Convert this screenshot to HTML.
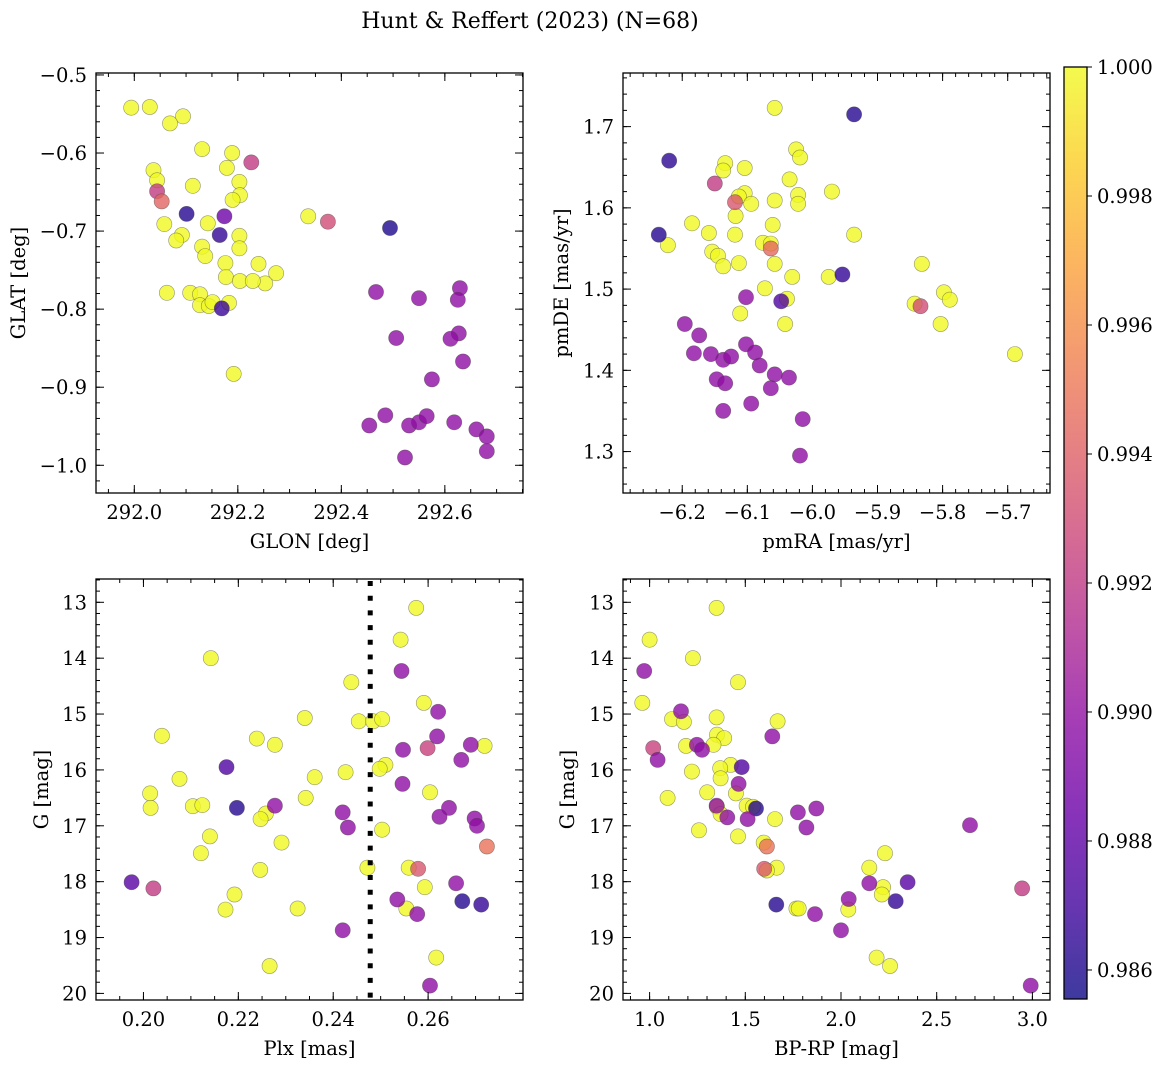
<!DOCTYPE html>
<html><head><meta charset="utf-8">
<style>
html,body{margin:0;padding:0;background:#fff;}
svg{display:block;font-family:"DejaVu Serif","Liberation Serif",serif;}
</style></head>
<body>
<svg id="fig" width="1161" height="1067" viewBox="0 0 1161 1067" xmlns="http://www.w3.org/2000/svg">
<text x="530" y="28" font-size="22" text-anchor="middle">Hunt &amp; Reffert (2023) (N=68)</text>
</svg>
<script>
// ---------- Panel 1: GLON / GLAT ----------
const glon = [291.994,292.030,292.094,292.069,292.131,292.189,292.179,292.037,292.044,292.113,292.203,292.204,292.190,292.058,292.142,292.092,292.081,292.203,292.131,292.203,292.137,292.176,292.240,292.274,292.177,292.108,292.127,292.204,292.253,292.229,292.063,292.127,292.144,292.183,292.151,292.192,292.336,
292.101,292.165,292.494,292.169,292.174,
292.226,292.044,292.053,292.374,
292.467,292.550,292.629,292.625,292.506,292.627,292.611,292.635,292.575,292.454,292.485,292.531,292.550,292.565,292.618,292.661,292.681,292.681,292.523];
const glat = [-0.542,-0.541,-0.553,-0.562,-0.595,-0.600,-0.619,-0.622,-0.635,-0.642,-0.637,-0.654,-0.660,-0.691,-0.690,-0.705,-0.712,-0.706,-0.720,-0.722,-0.732,-0.741,-0.742,-0.754,-0.759,-0.779,-0.781,-0.764,-0.767,-0.764,-0.779,-0.795,-0.796,-0.792,-0.791,-0.883,-0.681,
-0.678,-0.705,-0.696,-0.799,-0.681,
-0.612,-0.649,-0.662,-0.688,
-0.778,-0.786,-0.773,-0.788,-0.837,-0.831,-0.838,-0.867,-0.890,-0.949,-0.936,-0.949,-0.945,-0.937,-0.945,-0.954,-0.963,-0.982,-0.990];
const prob1 = [1.000,1.000,1.000,1.000,1.000,1.000,1.000,1.000,1.000,1.000,1.000,1.000,1.000,1.000,1.000,1.000,1.000,1.000,1.000,1.000,1.000,1.000,1.000,1.000,1.000,1.000,1.000,1.000,1.000,1.000,1.000,1.000,1.000,1.000,1.000,1.000,1.000,
0.9862,0.9866,0.9860,0.9868,0.9885,
0.9921,0.9922,0.9942,0.9930,
0.9899,0.9899,0.9899,0.9899,0.9899,0.9899,0.9899,0.9899,0.9899,0.9899,0.9899,0.9899,0.9899,0.9899,0.9899,0.9899,0.9899,0.9899,0.9899];
const p1XTicks = [292.0,292.2,292.4,292.6];
const p1XLabels = ["292.0","292.2","292.4","292.6"];
const p1YTicks = [-0.5,-0.6,-0.7,-0.8,-0.9,-1.0];
const p1YLabels = ["\u22120.5","\u22120.6","\u22120.7","\u22120.8","\u22120.9","\u22121.0"];

// ---------- Panel 2: pmRA / pmDE ----------
const pmra = [-6.058,-6.025,-6.019,-6.134,-6.137,-6.104,-6.035,-5.970,-6.104,-6.113,-6.094,-6.058,-6.022,-6.022,-6.118,-6.061,-6.185,-6.159,-6.119,-5.936,-6.222,-6.076,-6.064,-6.154,-6.145,-6.113,-6.058,-6.137,-6.031,-5.975,-5.832,-6.073,-6.039,-6.111,-6.042,-5.843,-5.798,-5.789,-5.803,-5.689,
-5.936,-6.220,-6.236,-5.954,-6.048,
-6.150,-6.119,-6.064,-5.834,
-6.102,-6.196,-6.174,-6.182,-6.156,-6.137,-6.125,-6.102,-6.088,-6.081,-6.058,-6.036,-6.147,-6.134,-6.064,-6.094,-6.137,-6.015,-6.019];
const pmde = [1.723,1.672,1.662,1.655,1.646,1.649,1.635,1.620,1.618,1.614,1.605,1.609,1.616,1.605,1.590,1.579,1.581,1.569,1.567,1.567,1.554,1.557,1.556,1.546,1.541,1.532,1.531,1.528,1.515,1.515,1.531,1.501,1.488,1.470,1.457,1.482,1.496,1.487,1.457,1.420,
1.715,1.658,1.567,1.518,1.485,
1.630,1.607,1.550,1.479,
1.490,1.457,1.443,1.421,1.420,1.413,1.417,1.432,1.422,1.406,1.395,1.391,1.389,1.384,1.378,1.359,1.350,1.340,1.295];
const prob2 = [1.000,1.000,1.000,1.000,1.000,1.000,1.000,1.000,1.000,1.000,1.000,1.000,1.000,1.000,1.000,1.000,1.000,1.000,1.000,1.000,1.000,1.000,1.000,1.000,1.000,1.000,1.000,1.000,1.000,1.000,1.000,1.000,1.000,1.000,1.000,1.000,1.000,1.000,1.000,1.000,
0.9862,0.9864,0.9862,0.9866,0.9875,
0.9921,0.9935,0.9944,0.9930,
0.9899,0.9899,0.9899,0.9899,0.9899,0.9899,0.9899,0.9899,0.9899,0.9899,0.9899,0.9899,0.9899,0.9899,0.9899,0.9899,0.9899,0.9899,0.9899];
const p2XTicks = [-6.2,-6.1,-6.0,-5.9,-5.8,-5.7];
const p2XLabels = ["\u22126.2","\u22126.1","\u22126.0","\u22125.9","\u22125.8","\u22125.7"];
const p2YTicks = [1.3,1.4,1.5,1.6,1.7];
const p2YLabels = ["1.3","1.4","1.5","1.6","1.7"];

// ---------- Panel 3: Plx / G ----------
const plx = [0.2575,0.2542,0.2142,0.2438,0.2591,0.2340,0.2454,0.2484,0.2503,0.2039,0.2239,0.2277,0.2719,0.2510,0.2498,0.2426,0.2076,0.2361,0.2604,0.2014,0.2342,0.2015,0.2104,0.2124,0.2258,0.2247,0.2503,0.2140,0.2291,0.2121,0.2472,0.2559,0.2246,0.2593,0.2192,0.2173,0.2325,0.2554,0.2617,0.2266,
0.2175,0.2197,0.2672,0.2712,0.1975,
0.2599,0.2021,0.2579,0.2724,
0.2544,0.2621,0.2619,0.2547,0.2690,0.2670,0.2546,0.2277,0.2420,0.2431,0.2644,0.2624,0.2698,0.2703,0.2659,0.2535,0.2577,0.2420,0.2604];
const gmag3 = [13.10,13.67,14.00,14.43,14.80,15.07,15.13,15.13,15.09,15.39,15.44,15.55,15.57,15.91,15.98,16.04,16.16,16.13,16.40,16.42,16.50,16.68,16.65,16.63,16.78,16.88,17.07,17.19,17.30,17.49,17.75,17.75,17.79,18.10,18.23,18.50,18.48,18.48,19.36,19.51,
15.95,16.68,18.35,18.41,18.01,
15.61,18.12,17.77,17.37,
14.23,14.96,15.40,15.64,15.55,15.82,16.25,16.64,16.76,17.03,16.68,16.84,16.87,17.00,18.03,18.32,18.58,18.87,19.86];
const prob3 = [1.000,1.000,1.000,1.000,1.000,1.000,1.000,1.000,1.000,1.000,1.000,1.000,1.000,1.000,1.000,1.000,1.000,1.000,1.000,1.000,1.000,1.000,1.000,1.000,1.000,1.000,1.000,1.000,1.000,1.000,1.000,1.000,1.000,1.000,1.000,1.000,1.000,1.000,1.000,1.000,
0.9875,0.9862,0.9862,0.9866,0.9878,
0.9925,0.9921,0.9935,0.9948,
0.9899,0.9899,0.9899,0.9899,0.9899,0.9899,0.9899,0.9899,0.9899,0.9899,0.9899,0.9899,0.9899,0.9899,0.9899,0.9899,0.9899,0.9899,0.9899];
const plxCut = 0.2478;
const p3XTicks = [0.20,0.22,0.24,0.26];
const p3XLabels = ["0.20","0.22","0.24","0.26"];
const gTicks = [13,14,15,16,17,18,19,20];
const gLabels = ["13","14","15","16","17","18","19","20"];

// ---------- Panel 4: BP-RP / G ----------
const bprp = [1.350,1.000,1.226,1.462,0.962,1.117,1.179,1.350,1.669,1.352,1.390,1.334,1.190,1.423,1.369,1.371,1.221,1.094,1.301,1.451,1.507,1.540,1.352,1.371,1.655,1.258,1.462,1.596,1.664,1.613,2.230,2.148,2.220,2.213,1.767,1.779,2.038,2.186,2.256,
1.481,1.556,1.662,2.286,2.348,
1.019,2.946,1.613,1.599,
0.972,1.164,1.247,1.274,1.042,1.641,1.465,1.350,1.406,1.512,1.775,1.871,1.819,2.674,2.148,2.040,1.864,2.000,2.991];
const gmag4 = [13.10,13.67,14.00,14.43,14.80,15.09,15.14,15.06,15.13,15.37,15.43,15.55,15.57,15.91,15.97,16.15,16.03,16.50,16.40,16.42,16.64,16.66,16.66,16.79,16.88,17.08,17.19,17.30,17.75,17.80,17.49,17.75,18.10,18.23,18.48,18.48,18.50,19.36,19.51,
15.95,16.69,18.41,18.35,18.01,
15.61,18.12,17.37,17.77,
14.23,14.95,15.55,15.64,15.82,15.40,16.25,16.64,16.85,16.88,16.76,16.69,17.03,16.99,18.03,18.31,18.58,18.87,19.86];
const prob4 = [1.000,1.000,1.000,1.000,1.000,1.000,1.000,1.000,1.000,1.000,1.000,1.000,1.000,1.000,1.000,1.000,1.000,1.000,1.000,1.000,1.000,1.000,1.000,1.000,1.000,1.000,1.000,1.000,1.000,1.000,1.000,1.000,1.000,1.000,1.000,1.000,1.000,1.000,1.000,
0.9875,0.9862,0.9862,0.9866,0.9878,
0.9925,0.9921,0.9948,0.9935,
0.9899,0.9899,0.9899,0.9899,0.9899,0.9899,0.9899,0.9899,0.9899,0.9899,0.9899,0.9899,0.9899,0.9899,0.9899,0.9899,0.9899,0.9899,0.9899];
const p4XTicks = [1.0,1.5,2.0,2.5,3.0];
const p4XLabels = ["1.0","1.5","2.0","2.5","3.0"];

// ---------- Colorbar ----------
const cbTicks = [0.986,0.988,0.990,0.992,0.994,0.996,0.998,1.000];
const cbLabels = ["0.986","0.988","0.990","0.992","0.994","0.996","0.998","1.000"];
const vmin = 0.98555, vmax = 1.0;

const NS = "http://www.w3.org/2000/svg";
const FS = 19.5;
const fig = document.getElementById('fig');
const plasmaStops = ["#0d0887","#41049d","#6a00a8","#8f0da4","#b12a90","#cc4778","#e16462","#f2844b","#fca636","#fcce25","#f0f921"];
function hex(h){return [parseInt(h.substr(1,2),16),parseInt(h.substr(3,2),16),parseInt(h.substr(5,2),16)];}
function plasma(t){
  t=Math.max(0,Math.min(1,t));
  const f=t*10, i=Math.min(9,Math.floor(f)), r=f-i;
  const a=hex(plasmaStops[i]), b=hex(plasmaStops[i+1]);
  return "rgb("+a.map((v,k)=>Math.round(v+(b[k]-v)*r)).join(",")+")";
}
function el(tag, attrs, parent){
  const e=document.createElementNS(NS,tag);
  for(const k in attrs) e.setAttribute(k,attrs[k]);
  (parent||fig).appendChild(e);
  return e;
}
function linear(d0,d1,r0,r1){return v=>r0+(v-d0)/(d1-d0)*(r1-r0);}

function panel(name, box, xdom, ydom, xt, xl, xminor, yt, yl, yminor, xlabel, ylabel, ylabelX, xs, ys, ps){
  const g=el('g',{});
  
  
  const sx=linear(xdom[0],xdom[1],box.x0,box.x1);
  const sy=linear(ydom[0],ydom[1],box.y1,box.y0);
  const pg=el('g',{},g);
  
  
  for(let i=0;i<xs.length;i++){
    const c=el('circle',{cx:sx(xs[i]).toFixed(1),cy:sy(ys[i]).toFixed(1),r:7.6,fill:plasma((ps[i]-vmin)/(vmax-vmin)),'fill-opacity':0.8,stroke:'rgba(70,70,60,0.55)','stroke-width':0.6},pg);
    
    
  }
  const tg=el('g',{stroke:'#000','stroke-width':1},g);
  const xlo=Math.min(xdom[0],xdom[1]), xhi=Math.max(xdom[0],xdom[1]);
  const ylo=Math.min(ydom[0],ydom[1]), yhi=Math.max(ydom[0],ydom[1]);
  for(let v=Math.ceil(xlo/xminor-1e-6)*xminor; v<=xhi+1e-9; v+=xminor){
    const X=sx(v);
    el('line',{x1:X,x2:X,y1:box.y1,y2:box.y1-4},tg);
    el('line',{x1:X,x2:X,y1:box.y0,y2:box.y0+4},tg);
  }
  for(let v=Math.ceil(ylo/yminor-1e-6)*yminor; v<=yhi+1e-9; v+=yminor){
    const Y=sy(v);
    el('line',{y1:Y,y2:Y,x1:box.x0,x2:box.x0+4},tg);
    el('line',{y1:Y,y2:Y,x1:box.x1,x2:box.x1-4},tg);
  }
  xt.forEach((v,i)=>{
    const X=sx(v);
    el('line',{x1:X,x2:X,y1:box.y1,y2:box.y1-8},tg);
    el('line',{x1:X,x2:X,y1:box.y0,y2:box.y0+8},tg);
    const t=el('text',{x:X,y:box.y1+26,'font-size':FS,'text-anchor':'middle'},g);
    t.textContent=xl[i];
    
    
  });
  yt.forEach((v,i)=>{
    const Y=sy(v);
    el('line',{y1:Y,y2:Y,x1:box.x0,x2:box.x0+8},tg);
    el('line',{y1:Y,y2:Y,x1:box.x1,x2:box.x1-8},tg);
    const t=el('text',{x:box.x0-9,y:Y+7,'font-size':FS,'text-anchor':'end'},g);
    t.textContent=yl[i];
    
    
  });
  const fr=el('rect',{x:box.x0,y:box.y0,width:box.x1-box.x0,height:box.y1-box.y0,fill:'none',stroke:'#000','stroke-width':1.3},g);
  
  
  const xa=el('text',{x:(box.x0+box.x1)/2,y:box.y1+55,'font-size':FS,'text-anchor':'middle'},g);
  xa.textContent=xlabel;
  
  
  const cy=(box.y0+box.y1)/2;
  const ya=el('text',{x:ylabelX,y:cy,'font-size':FS,'text-anchor':'middle',transform:'rotate(-90 '+ylabelX+' '+cy+')'},g);
  ya.textContent=ylabel;
  
  
  return {sx,sy,g};
}

panel('glon-glat-panel',{x0:96,x1:523,y0:73,y1:493},[291.926,292.751],[-1.0355,-0.4975],
  p1XTicks,p1XLabels,0.05,p1YTicks,p1YLabels,0.02,'GLON [deg]','GLAT [deg]',25,glon,glat,prob1);
panel('pm-panel',{x0:623,x1:1050,y0:73,y1:493},[-6.291,-5.635],[1.249,1.766],
  p2XTicks,p2XLabels,0.02,p2YTicks,p2YLabels,0.02,'pmRA [mas/yr]','pmDE [mas/yr]',568,pmra,pmde,prob2);
const p3=panel('plx-g-panel',{x0:96,x1:523,y0:579,y1:1000},[0.19,0.28],[20.118,12.583],
  p3XTicks,p3XLabels,0.005,gTicks,gLabels,0.2,'Plx [mas]','G [mag]',48,plx,gmag3,prob3);
panel('cmd-panel',{x0:623,x1:1050,y0:579,y1:1000},[0.861,3.092],[20.118,12.583],
  p4XTicks,p4XLabels,0.1,gTicks,gLabels,0.2,'BP-RP [mag]','G [mag]',574,bprp,gmag4,prob4);

const cl=el('line',{x1:p3.sx(plxCut),x2:p3.sx(plxCut),y1:581,y2:1000,stroke:'#000','stroke-width':5,'stroke-dasharray':'5 9.7'},p3.g);



const cb={x0:1064,x1:1087,y0:67,y1:999};
const defs=el('defs',{});
const lg=el('linearGradient',{id:'plg',x1:0,y1:1,x2:0,y2:0},defs);
for(let k=0;k<=20;k++){el('stop',{offset:(k/20),'stop-color':plasma(k/20)},lg);}
const cbg=el('g',{});


el('rect',{x:cb.x0,y:cb.y0,width:cb.x1-cb.x0,height:cb.y1-cb.y0,fill:'url(#plg)','fill-opacity':0.8},cbg);
el('rect',{x:cb.x0,y:cb.y0,width:cb.x1-cb.x0,height:cb.y1-cb.y0,fill:'none',stroke:'#000','stroke-width':1.3},cbg);
const scb=linear(vmin,vmax,cb.y1,cb.y0);
cbTicks.forEach((v,i)=>{
  const Y=scb(v);
  el('line',{x1:cb.x1,x2:cb.x1+5,y1:Y,y2:Y,stroke:'#000','stroke-width':1},cbg);
  const t=el('text',{x:cb.x1+10,y:Y+7,'font-size':FS},cbg);
  t.textContent=cbLabels[i];
  
  
});
</script>
</body></html>
